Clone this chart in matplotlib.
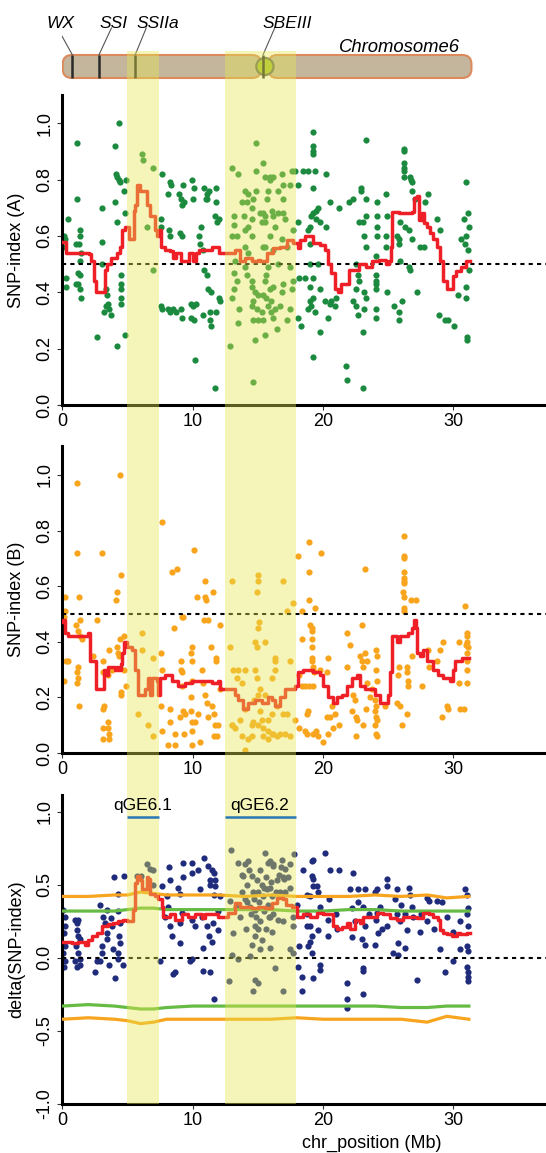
import matplotlib
matplotlib.use("Agg")
import matplotlib.pyplot as plt
from matplotlib.patches import FancyBboxPatch, Circle, Rectangle
from matplotlib import transforms
import numpy as np

# ---------------- data ----------------
x_ticks = [0, 10, 20, 30]
bands = [(4.95, 7.45), (12.5, 17.95)]
qtl_labels = ["qGE6.1", "qGE6.2"]
qtl_label_x = [6.15, 15.15]

genes = ["WX", "SSI", "SSIIa", "SBEIII"]
gene_pos = [0.78, 2.81, 5.59, 15.4]
gene_label_x = [-0.1, 3.91, 7.33, 17.27]
gene_leader_x = [-0.37, 3.77, 6.44, 16.3]
chrom_end = 31.4
centromere = 15.55

# Panel A: SNP-index (A)
a_pts = [(1.13,0.93),(4.08,0.92),(4.38,1.0),(0.43,0.66),(0.13,0.60),(0.18,0.59),(0.05,0.56),(0.25,0.45),(0.30,0.42),
(1.13,0.73),(1.39,0.62),(1.36,0.60),(1.26,0.57),(1.06,0.57),(1.44,0.54),(1.39,0.51),(1.23,0.47),(1.34,0.46),(1.18,0.43),(1.06,0.43),(1.39,0.41),(1.44,0.38),
(2.70,0.24),(3.02,0.70),(3.07,0.58),(3.02,0.50),(3.32,0.41),(3.45,0.39),(3.50,0.36),(3.58,0.34),(3.20,0.33),(3.70,0.32),(3.35,0.35),
(4.13,0.82),(4.21,0.81),(4.33,0.80),(4.46,0.79),(4.08,0.72),(4.21,0.65),(4.51,0.46),(4.51,0.43),(4.51,0.41),(4.51,0.38),(4.51,0.36),
(4.81,0.68),(4.91,0.80),(4.76,0.76),(4.81,0.25),(4.16,0.21),
(6.15,0.89),(6.17,0.87),(6.98,0.84),(6.93,0.48),(6.52,0.63),
(7.66,0.82),(7.61,0.66),(7.61,0.63),(7.61,0.35),(7.68,0.34),(8.24,0.79),(8.36,0.78),(8.11,0.75),(8.19,0.62),(8.24,0.60),
(8.11,0.34),(8.49,0.34),(8.74,0.33),(9.12,0.34),(9.19,0.31),(8.24,0.33),
(8.99,0.75),(9.12,0.73),(9.19,0.71),(9.37,0.72),(9.24,0.78),(9.07,0.61),(9.19,0.60),
(9.95,0.80),(10.13,0.77),(10.0,0.73),(9.87,0.36),(10.0,0.35),(10.25,0.36),(9.87,0.31),(10.13,0.30),(10.20,0.16),
(10.63,0.63),(10.50,0.60),(10.58,0.57),(10.81,0.55),(10.88,0.77),(11.13,0.75),(11.26,0.76),(11.01,0.73),(11.13,0.73),
(10.88,0.48),(11.13,0.46),(11.21,0.41),(11.39,0.40),(11.31,0.33),(10.81,0.32),(11.34,0.30),(11.39,0.28),
(11.76,0.77),(11.76,0.72),(11.71,0.67),(11.89,0.65),(12.01,0.66),(11.71,0.06),(11.76,0.33),(12.06,0.38),(12.14,0.37),
(12.85,0.21),(13.02,0.84),(13.48,0.82),(13.15,0.67),(13.15,0.64),(13.02,0.60),(13.40,0.60),(13.27,0.51),(13.15,0.47),(13.40,0.44),(13.15,0.41),(13.02,0.38),(13.53,0.34),(13.48,0.29),
(14.03,0.76),(14.23,0.75),(14.16,0.72),(14.53,0.70),(14.66,0.73),(14.89,0.83),(14.84,0.93),(14.84,0.76),
(13.78,0.72),(13.98,0.67),(14.03,0.62),(14.28,0.63),(14.53,0.66),(14.53,0.60),(14.03,0.56),(14.28,0.54),
(14.03,0.49),(14.16,0.46),(14.53,0.44),(14.58,0.42),(14.79,0.40),(15.04,0.39),(14.66,0.37),(14.53,0.35),(14.91,0.34),(15.29,0.33),(14.66,0.30),(15.04,0.30),
(14.79,0.23),(15.54,0.25),(14.66,0.08),(15.16,0.68),(15.29,0.65),(15.54,0.67),(15.54,0.56),(15.67,0.46),(15.92,0.41),(16.00,0.37),(16.05,0.33),(15.67,0.38),
(15.92,0.81),(15.79,0.76),(16.10,0.69),
(15.44,0.86),(15.57,0.81),(15.95,0.80),(16.20,0.81),(16.84,0.82),(17.59,0.83),(17.85,0.83),(17.47,0.78),(16.96,0.78),(16.58,0.76),(16.96,0.73),(15.70,0.73),
(15.44,0.68),(16.20,0.67),(16.58,0.68),(16.96,0.68),(17.09,0.66),(16.33,0.63),(15.57,0.65),(15.95,0.60),(16.84,0.59),(17.72,0.62),(15.44,0.56),(16.20,0.55),
(17.22,0.56),(15.82,0.49),(16.58,0.50),(17.47,0.49),(17.72,0.44),(16.96,0.43),(16.20,0.42),(15.57,0.44),(17.59,0.41),(16.84,0.40),(15.44,0.39),(15.82,0.35),
(16.33,0.34),(16.71,0.35),(17.47,0.34),(15.44,0.30),(16.20,0.31),(16.46,0.27),(17.22,0.30),
(19.24,0.97),(19.24,0.92),(19.24,0.90),(19.24,0.89),(18.48,0.83),(18.86,0.83),(19.37,0.83),(20.25,0.82),(18.10,0.78),(19.24,0.77),(23.29,0.94),(21.27,0.70),
(20.51,0.72),(19.62,0.70),(19.49,0.69),(19.24,0.68),(19.11,0.67),(19.49,0.66),(18.99,0.63),(19.75,0.65),(20.25,0.63),(18.86,0.62),(18.10,0.65),(18.99,0.57),
(18.99,0.50),(19.62,0.50),(18.18,0.45),(18.61,0.45),(19.24,0.45),(18.99,0.42),(19.75,0.41),(19.24,0.38),(18.99,0.37),(18.86,0.34),(19.11,0.35),(20.13,0.37),
(19.37,0.33),(18.35,0.28),(18.10,0.31),(19.75,0.26),(20.38,0.31),(20.51,0.36),(20.63,0.37),(20.89,0.35),(21.01,0.38),(19.24,0.17),(21.77,0.14),(21.82,0.09),(23.09,0.06),
(22.28,0.73),(22.03,0.72),(22.91,0.77),(22.91,0.76),(23.29,0.73),(22.78,0.65),(23.04,0.65),(23.29,0.67),(22.53,0.50),(22.66,0.46),(22.78,0.44),(22.53,0.41),
(23.16,0.40),(23.29,0.38),(22.28,0.37),(22.53,0.35),(22.66,0.32),(23.16,0.34),(24.05,0.34),(24.05,0.31),(23.04,0.26),(23.29,0.56),(23.16,0.60),(24.18,0.60),
(24.18,0.63),(24.18,0.67),(24.18,0.72),(24.05,0.53),(24.05,0.46),(24.05,0.44),(24.05,0.43),(24.05,0.41),(24.81,0.75),(24.94,0.67),(24.81,0.60),(24.81,0.56),
(24.94,0.40),(25.44,0.35),(25.82,0.33),(25.82,0.30),(26.08,0.37),(25.70,0.60),(25.82,0.57),(25.95,0.65),(25.82,0.59),
(26.20,0.91),(26.25,0.90),(26.25,0.86),(26.25,0.84),(26.25,0.83),(26.25,0.81),(26.71,0.81),(26.78,0.80),(26.84,0.79),(26.84,0.76),(27.09,0.73),(28.10,0.75),
(27.85,0.72),(26.33,0.63),(26.58,0.62),(26.84,0.59),(25.95,0.51),(26.58,0.49),(26.71,0.48),(27.22,0.40),(27.47,0.56),(27.72,0.56),(28.73,0.66),(28.99,0.62),
(28.94,0.32),(29.37,0.30),(29.62,0.30),(30.08,0.28),(30.38,0.39),(30.56,0.59),(31.01,0.79),(31.14,0.68),(30.84,0.66),(31.19,0.63),(31.01,0.60),(30.89,0.57),
(31.14,0.55),(31.22,0.48),(31.01,0.42),(31.01,0.38),(31.09,0.24),(31.09,0.23)]

a_line = [(0.0,0.58),(0.30,0.54),(1.56,0.54),(2.07,0.535),(2.19,0.51),(2.44,0.44),(2.57,0.40),(3.20,0.40),(3.25,0.48),(3.45,0.50),(3.70,0.52),(4.21,0.54),
(4.46,0.56),(4.58,0.62),(4.84,0.63),(5.09,0.59),(5.47,0.69),(5.59,0.71),(5.72,0.78),(5.92,0.78),(5.97,0.76),(6.35,0.76),(6.47,0.71),(6.73,0.67),(6.98,0.67),
(7.10,0.62),(7.23,0.60),(7.43,0.62),(7.61,0.56),(7.86,0.55),(8.24,0.545),(8.49,0.52),(8.74,0.54),(9.12,0.51),(9.50,0.51),(9.75,0.54),(10.0,0.51),(10.25,0.54),
(10.50,0.55),(11.01,0.55),(11.51,0.56),(12.01,0.54),(12.39,0.54),(12.77,0.54),(13.27,0.55),(13.65,0.51),(14.03,0.52),(14.53,0.51),(15.04,0.515),(15.19,0.51),
(15.70,0.54),(16.20,0.556),(16.71,0.56),(17.22,0.586),(17.72,0.574),(18.10,0.556),(18.23,0.586),(18.61,0.60),(19.24,0.574),(19.75,0.568),(20.13,0.55),(20.38,0.50),
(20.63,0.47),(20.89,0.41),(21.14,0.40),(21.39,0.43),(21.77,0.43),(22.03,0.48),(22.53,0.48),(22.78,0.50),(23.29,0.49),(23.80,0.51),(24.30,0.515),(24.81,0.50),
(25.06,0.51),(25.19,0.56),(25.32,0.686),(25.82,0.68),(26.33,0.68),(26.84,0.686),(26.96,0.733),(27.22,0.74),(27.34,0.657),(27.59,0.68),(27.72,0.645),(27.97,0.63),
(28.23,0.61),(28.48,0.59),(28.73,0.56),(28.99,0.51),(29.24,0.44),(29.49,0.41),(29.82,0.41),(30.0,0.456),(30.25,0.474),(30.63,0.49),(31.01,0.51),(31.27,0.51)]

# Panel B: SNP-index (B)
b_pts = [(1.13,0.97),(4.43,1.0),(1.13,0.72),(3.02,0.72),(7.62,0.83),(10.13,0.73),(4.50,0.64),(8.39,0.65),(8.83,0.66),(10.95,0.62),(13.0,0.62),(11.59,0.58),
(10.31,0.56),(10.95,0.56),(11.0,0.55),(0.21,0.56),(1.28,0.56),(4.17,0.58),(4.12,0.55),(14.99,0.64),(14.99,0.62),(14.91,0.58),(0.21,0.51),(0.16,0.49),(2.64,0.48),
(9.16,0.49),(12.10,0.46),(10.90,0.48),(11.21,0.48),(1.05,0.46),(1.36,0.48),(1.23,0.44),(1.36,0.42),(1.49,0.41),(4.76,0.42),(4.43,0.41),(4.17,0.38),(4.30,0.36),
(6.14,0.43),(6.14,0.37),(6.99,0.34),(7.57,0.36),(8.60,0.45),(9.29,0.49),(9.93,0.38),(9.85,0.36),(9.93,0.33),(11.41,0.38),(11.77,0.34),(11.77,0.33),
(15.04,0.45),(15.09,0.47),(14.79,0.40),(15.55,0.40),(16.32,0.34),(14.91,0.38),
(0.28,0.33),(0.46,0.33),(1.23,0.31),(1.13,0.29),(1.23,0.27),(1.13,0.25),(0.16,0.26),(1.28,0.17),(2.38,0.35),(3.15,0.33),(3.58,0.37),(3.15,0.29),(3.53,0.28),
(3.79,0.30),(4.35,0.35),(4.50,0.22),(4.50,0.21),(4.89,0.24),(3.17,0.17),(3.15,0.16),(3.53,0.11),(3.53,0.09),(3.15,0.09),(3.61,0.07),(3.15,0.05),(3.58,0.05),
(5.78,0.14),(6.60,0.10),(6.99,0.06),(4.76,0.30),(7.62,0.30),(7.57,0.17),(7.62,0.08),(8.26,0.16),(8.26,0.11),(8.65,0.07),(8.14,0.03),(8.65,0.03),(9.36,0.07),
(9.11,0.30),(9.16,0.29),(9.11,0.33),(9.16,0.24),(9.03,0.13),(9.29,0.15),(9.42,0.14),(9.98,0.26),(9.85,0.20),(9.88,0.15),(9.93,0.11),(9.98,0.08),(10.39,0.14),
(10.18,0.11),(10.75,0.30),(10.82,0.25),(10.95,0.21),(11.08,0.18),(11.15,0.13),(10.59,0.04),(9.93,0.03),(11.46,0.17),(11.67,0.14),(11.72,0.10),(11.97,0.10),
(11.85,0.06),(11.67,0.06),(12.10,0.23),
(12.87,0.38),(13.12,0.30),(13.51,0.30),(14.02,0.30),(13.76,0.25),(13.38,0.27),(13.05,0.10),(13.25,0.09),(13.0,0.10),(13.64,0.12),(13.81,0.06),(14.28,0.05),
(14.53,0.10),(14.79,0.30),(14.91,0.27),(15.04,0.21),(14.74,0.19),(15.17,0.15),(15.30,0.12),(15.43,0.06),(15.81,0.05),(16.07,0.07),(15.81,0.12),(16.45,0.17),
(16.07,0.14),(15.55,0.21),(16.32,0.30),(15.17,0.23),(14.02,0.16),(14.66,0.11),(15.04,0.10),(15.43,0.09),(15.81,0.08),(14.53,0.06),(14.02,0.01),
(16.96,0.62),(17.68,0.54),(17.22,0.51),(18.11,0.71),(18.93,0.76),(19.83,0.72),(18.96,0.65),(19.39,0.52),(18.96,0.55),(18.40,0.51),(19.01,0.46),(19.14,0.45),
(19.14,0.44),(19.14,0.41),(19.19,0.38),(18.37,0.41),(19.14,0.34),(19.19,0.33),(19.21,0.31),(19.27,0.30),(19.34,0.29),(20.42,0.34),(19.78,0.30),(20.29,0.29),
(18.19,0.28),(18.37,0.24),(18.63,0.24),(18.96,0.24),(19.27,0.24),(21.82,0.43),(22.08,0.39),(23.03,0.46),(23.23,0.66),(21.82,0.31),(22.85,0.35),(22.97,0.33),
(23.05,0.31),(23.23,0.36),(23.36,0.33),(24.07,0.37),(24.13,0.35),(24.07,0.30),(24.18,0.26),(18.88,0.15),(18.75,0.14),(18.75,0.07),(18.17,0.09),(18.63,0.08),
(19.27,0.07),(19.47,0.08),(20.03,0.04),(19.65,0.06),(20.42,0.07),(20.80,0.09),(21.26,0.10),(20.54,0.13),(20.93,0.14),(20.67,0.17),(20.34,0.13),(22.34,0.21),
(22.46,0.19),(22.21,0.15),(22.54,0.13),(22.59,0.12),(23.05,0.10),(22.54,0.06),(23.31,0.16),(23.61,0.20),(23.74,0.23),(23.36,0.25),(24.0,0.19),(24.07,0.17),
(24.0,0.15),(24.07,0.13),(24.13,0.12),(24.02,0.10),(24.07,0.07),(24.13,0.06),(24.77,0.17),
(26.22,0.78),(26.22,0.71),(26.25,0.70),(26.22,0.65),(26.22,0.63),(26.22,0.62),(26.22,0.61),(26.17,0.58),(26.22,0.56),(26.22,0.52),(26.25,0.51),(26.73,0.55),
(27.14,0.55),(25.84,0.31),(25.79,0.28),(25.71,0.18),(25.92,0.17),(26.04,0.10),(26.43,0.31),(26.43,0.29),(26.50,0.26),(26.56,0.24),(26.48,0.14),(26.81,0.35),
(27.58,0.24),(28.09,0.37),(28.17,0.31),(28.73,0.33),(29.24,0.40),(28.99,0.37),(29.11,0.13),(29.55,0.17),(29.63,0.16),(30.47,0.25),(30.52,0.16),(30.83,0.16),
(30.90,0.53),(31.03,0.43),(31.03,0.42),(31.08,0.40),(31.11,0.38),(31.03,0.36),(31.03,0.33),(31.03,0.30),(31.08,0.25),(30.47,0.40),(30.98,0.39),
(16.07,0.27),(16.96,0.14),(17.22,0.14),(16.71,0.07),(17.09,0.07),(16.20,0.07),(17.47,0.06),(16.45,0.06),(17.86,0.12),(16.32,0.33),(17.47,0.33)]

b_line = [(0.0,0.47),(0.08,0.48),(0.21,0.43),(0.41,0.42),(2.0,0.43),(2.12,0.33),(2.38,0.33),(2.56,0.23),(3.15,0.23),(3.2,0.30),(3.4,0.28),(3.48,0.31),(4.04,0.30),
(4.17,0.31),(4.30,0.30),(4.50,0.32),(4.56,0.36),(4.76,0.40),(4.94,0.38),(5.32,0.37),(5.58,0.30),(5.83,0.21),(6.35,0.23),(6.60,0.27),(6.73,0.21),(6.86,0.27),
(7.24,0.26),(7.37,0.21),(7.50,0.27),(7.88,0.28),(8.39,0.26),(8.90,0.24),(9.42,0.25),(9.93,0.26),(10.44,0.26),(10.95,0.26),(11.46,0.25),(11.97,0.26),(12.10,0.23),
(12.48,0.23),(12.87,0.23),(13.25,0.21),(13.51,0.19),(13.89,0.16),(14.28,0.18),(14.79,0.19),(15.30,0.18),(15.81,0.20),(16.07,0.19),(16.32,0.17),(16.71,0.20),
(17.09,0.23),(17.47,0.23),(17.86,0.24),(18.11,0.29),(18.5,0.30),(18.88,0.30),(19.27,0.29),(19.78,0.28),(20.03,0.24),(20.42,0.20),(20.80,0.18),(21.06,0.20),
(21.44,0.21),(21.82,0.24),(22.21,0.27),(22.59,0.28),(22.85,0.24),(23.23,0.23),(23.61,0.23),(24.0,0.21),(24.38,0.18),(24.77,0.18),(25.0,0.21),(25.15,0.29),
(25.28,0.42),(25.66,0.40),(25.92,0.42),(26.56,0.43),(26.81,0.45),(26.99,0.48),(27.12,0.45),(27.2,0.36),(27.45,0.35),(27.7,0.37),(27.96,0.33),(28.47,0.30),
(28.86,0.28),(29.24,0.27),(29.75,0.26),(29.96,0.30),(30.14,0.33),(30.52,0.33),(30.65,0.34),(31.2,0.34)]

# Panel C: delta(SNP-index)
c_pts = [(0.08,0.33),(0.21,0.28),(0.21,0.22),(0.16,0.17),(0.21,0.08),(0.08,0.03),(0.21,-0.02),(0.16,-0.06),(0.97,0.26),(1.10,0.24),(1.23,0.26),(1.10,0.19),
(1.18,0.15),(1.36,0.13),(1.02,0.08),(1.23,0.03),(1.36,-0.01),(0.97,-0.02),(1.10,-0.06),(1.36,-0.05),(2.51,-0.10),(2.64,-0.02),(3.02,0.03),(2.89,-0.02),
(3.02,0.08),(3.40,0.13),(3.40,0.17),(2.89,0.36),(3.40,0.33),(3.15,0.28),(3.28,0.24),(3.74,0.27),(3.79,0.22),(3.58,-0.05),(3.92,0.06),(4.04,-0.14),(3.99,0.55),
(4.30,0.44),(4.30,0.32),(4.43,0.24),(4.35,0.15),(4.43,0.10),(4.30,0.03),(4.30,-0.01),(4.76,0.56),(4.68,-0.05),
(5.71,0.56),(6.47,0.64),(6.73,0.61),(6.99,0.60),(6.99,0.50),(6.04,0.56),
(7.62,0.49),(8.19,0.62),(8.26,0.53),(8.01,0.42),(8.14,0.35),(7.88,0.28),(7.50,-0.02),(8.26,0.22),(8.39,0.15),(8.52,-0.11),(8.65,-0.10),(9.03,0.10),(9.03,0.24),
(9.16,0.31),(9.03,0.44),(8.90,0.48),(9.29,0.65),(9.29,0.55),(9.93,0.65),(9.98,0.58),(9.93,0.26),(10.18,0.22),(9.80,-0.02),(9.98,-0.01),(10.44,0.60),(10.57,0.47),
(10.69,0.28),(10.82,0.07),(10.82,-0.09),(10.90,0.68),(11.08,0.22),(11.21,0.63),(11.33,0.53),(11.46,0.60),(11.33,0.50),(11.26,0.15),(11.33,-0.10),(11.46,0.11),
(11.67,0.58),(11.72,0.53),(11.72,0.49),(11.67,0.43),(11.59,0.24),(11.97,0.32),(11.97,0.19),(11.67,-0.28),(12.10,0.42),
(12.95,0.74),(12.87,0.39),(13.12,0.17),(13.0,0.02),(13.51,-0.01),(12.79,-0.16),(13.51,0.65),(13.76,0.57),(14.02,0.64),(14.15,0.38),(14.53,0.56),(14.28,0.66),
(14.91,0.53),(15.81,0.65),(15.55,0.72),(14.79,0.22),(14.40,0.01),(14.53,0.09),(14.79,-0.15),(15.04,-0.17),(14.66,-0.23),(15.17,0.06),(16.19,0.63),(16.07,0.42),
(13.8,0.45),(14.0,0.40),(14.2,0.50),(14.4,0.35),(14.5,0.30),(14.6,0.45),(14.7,0.40),(14.8,0.33),(14.9,0.28),(15.0,0.45),(15.1,0.38),(15.2,0.25),(15.3,0.50),
(15.4,0.42),(15.5,0.32),(15.6,0.20),(15.7,0.47),(15.8,0.36),(15.9,0.28),(16.0,0.52),(16.2,0.30),(16.4,0.45),(13.9,0.56),(14.3,0.60),(15.2,0.60),(15.6,0.55),
(14.8,0.15),(15.3,0.12),(16.6,0.57),(16.8,0.62),(17.0,0.54),(13.3,0.35),(13.6,0.28),(15.5,0.48),(14.1,0.20),(15.0,0.20),(16.1,0.18),
(15.94,0.66),(16.2,0.64),(16.84,0.67),(17.09,0.61),(17.47,0.64),(17.78,0.71),(17.35,0.55),(16.96,0.55),(16.45,0.53),(15.94,0.48),(16.71,0.45),(17.09,0.45),
(17.47,0.48),(15.94,0.28),(16.58,0.26),(16.96,0.25),(17.73,0.28),(17.73,0.22),(15.94,0.07),(17.47,0.06),(17.73,0.03),(16.32,-0.07),(16.96,-0.23),
(18.5,0.60),(19.14,0.66),(19.27,0.67),(19.14,0.56),(19.21,0.54),(19.27,0.49),(19.52,0.49),(19.65,0.45),(19.78,0.35),(18.75,0.43),(19.01,0.42),(17.99,0.36),
(18.75,0.30),(20.16,0.72),(20.54,0.60),(21.26,0.60),(22.34,0.58),(22.08,0.47),(22.72,0.47),(23.23,0.47),(22.21,0.34),(22.67,0.38),(23.10,0.35),(23.23,0.22),
(22.97,0.13),(23.23,0.09),(22.21,0.14),(21.06,0.20),(20.42,0.15),(20.42,0.26),(19.65,0.19),(19.14,0.15),(19.01,0.11),(18.88,0.08),(19.14,0.03),(19.78,-0.05),
(19.78,-0.08),(18.11,-0.06),(18.37,-0.13),(19.27,-0.14),(18.37,-0.23),(18.75,0.22),(19.01,0.22),(18.19,0.08),(21.82,-0.17),(21.82,-0.28),(21.87,-0.34),
(23.05,-0.07),(23.10,-0.09),(23.05,-0.25),(24.0,0.45),(24.13,0.47),(24.38,0.35),(24.13,0.31),(24.07,0.26),(24.25,0.17),(24.0,0.09),(24.89,0.54),(24.89,0.49),
(24.89,0.22),(25.40,0.03),(25.79,0.02),(25.79,0.10),(25.66,0.47),(26.3,0.30),(26.43,0.19),(26.3,0.07),(26.63,0.48),(26.68,0.43),(26.81,0.35),(26.89,0.28),
(27.2,-0.15),(27.45,0.18),(27.96,0.41),(28.17,0.39),(28.73,0.39),(29.11,0.38),(28.99,0.06),(29.37,-0.10),(30.01,-0.02),(29.96,0.18),(30.52,0.06),(30.9,0.47),
(31.03,0.43),(31.16,0.34),(31.03,0.30),(31.16,0.22),(31.03,0.08),(31.16,0.05),(31.03,-0.06),(31.11,-0.10),(31.16,-0.13),(31.11,-0.16),
(25.7,0.30),(25.9,0.25),(26.0,0.36),(25.5,0.40),(20.5,0.40),(21.0,0.30),(22.5,0.25),(23.5,0.30),(24.5,0.20),(27.5,0.30),(28.0,0.25),(28.5,0.20),(29.5,0.28),(30.5,0.25)]

c_line = [(0.0,0.11),(0.72,0.10),(1.2,0.11),(1.74,0.09),(2.0,0.125),(2.25,0.15),(2.64,0.17),(3.02,0.22),(3.53,0.23),(3.92,0.24),(4.3,0.25),(4.68,0.26),(4.94,0.25),
(5.2,0.25),(5.45,0.33),(5.58,0.51),(5.71,0.56),(5.96,0.53),(6.09,0.47),(6.35,0.47),(6.47,0.55),(6.60,0.54),(6.73,0.44),(7.11,0.42),(7.37,0.40),(7.62,0.35),
(7.75,0.28),(8.26,0.30),(8.65,0.26),(9.16,0.30),(9.67,0.28),(10.18,0.30),(10.7,0.27),(10.95,0.30),(11.46,0.30),(11.97,0.28),(12.36,0.28),(12.74,0.31),
(13.25,0.375),(13.64,0.35),(14.02,0.35),(14.53,0.34),(15.04,0.35),(15.55,0.34),(16.07,0.375),(16.45,0.41),(16.96,0.40),(17.2,0.36),(17.6,0.35),(17.9,0.35),
(17.99,0.28),(18.5,0.30),(19.01,0.28),(19.52,0.31),(20.03,0.30),(20.54,0.30),(20.8,0.22),(21.06,0.20),(21.44,0.21),(21.82,0.24),(22.08,0.20),(22.46,0.26),
(22.85,0.24),(23.1,0.28),(23.61,0.28),(24.13,0.31),(24.64,0.30),(25.15,0.27),(25.66,0.26),(26.17,0.28),(26.68,0.28),(27.2,0.27),(27.7,0.31),(28.17,0.30),
(28.47,0.28),(28.86,0.26),(28.99,0.19),(29.24,0.17),(29.5,0.16),(29.88,0.15),(30.27,0.17),(30.52,0.16),(31.03,0.17),(31.29,0.17)]

thr_x = [0, 2, 4, 5, 6, 7, 8, 10, 12, 14, 16, 18, 20, 22, 24, 26, 28, 29.5, 31.2]
thr99_hi = [0.42, 0.42, 0.43, 0.43, 0.45, 0.44, 0.43, 0.43, 0.43, 0.42, 0.43, 0.42, 0.42, 0.42, 0.43, 0.42, 0.43, 0.41, 0.42]
thr99_lo = [-0.42, -0.41, -0.42, -0.43, -0.45, -0.44, -0.42, -0.42, -0.42, -0.42, -0.42, -0.41, -0.42, -0.42, -0.42, -0.42, -0.44, -0.40, -0.42]
thr95_hi = [0.32, 0.32, 0.32, 0.33, 0.34, 0.34, 0.33, 0.33, 0.33, 0.33, 0.33, 0.32, 0.32, 0.33, 0.33, 0.32, 0.32, 0.32, 0.32]
thr95_lo = [-0.33, -0.32, -0.33, -0.34, -0.35, -0.35, -0.34, -0.33, -0.33, -0.33, -0.33, -0.33, -0.33, -0.33, -0.33, -0.34, -0.34, -0.33, -0.33]

# ---------------- figure ----------------
plt.rcParams['font.family'] = ['Liberation Sans', 'DejaVu Sans']
W, H = 546, 1153
fig = plt.figure(figsize=(W / 100, H / 100), dpi=100)
XMAX = 37.12
LEFT = 62.3 / W


def panel(top_px, bottom_px, z=0):
    return fig.add_axes([LEFT, 1 - bottom_px / H, 1 - LEFT, (bottom_px - top_px) / H], zorder=z)


def style(ax, ylim, yticks, ylabel):
    ax.set_xlim(0, XMAX)
    ax.set_ylim(*ylim)
    for s in ("top", "right"):
        ax.spines[s].set_visible(False)
    for s in ("left", "bottom"):
        ax.spines[s].set_linewidth(2.2)
    ax.set_xticks(x_ticks)
    ax.set_xticklabels([str(t) for t in x_ticks])
    ax.set_yticks(yticks)
    ax.set_yticklabels([f"{t:.1f}" for t in yticks], rotation=90, va="center")
    ax.tick_params(axis="both", length=3.5, width=0.8, labelsize=13, color="#333333")
    ax.tick_params(axis="y", pad=3)
    ax.tick_params(axis="x", pad=2)
    ax.set_ylabel(ylabel, fontsize=13)
    ax.yaxis.set_label_coords(-0.077, 0.5)
    ax.patch.set_alpha(0)


GREEN = "#1b8a3f"
ORANGE = "#f8a41c"
NAVY = "#1f2b7b"
RED = "#ee1f26"

axA = panel(95, 405)
axB = panel(446, 753)
axC = panel(795, 1104)

for ax, pts, line, col in ((axA, a_pts, a_line, GREEN), (axB, b_pts, b_line, ORANGE), (axC, c_pts, c_line, NAVY)):
    p = np.array(pts)
    ax.scatter(p[:, 0], p[:, 1], s=20, color=col, linewidths=0, zorder=2)
    l = np.array(line)
    ax.plot(l[:, 0], l[:, 1], color=RED, lw=2.5, zorder=4, drawstyle="steps-post")

axA.axhline(0.5, color="black", lw=1.5, ls=(0, (2, 2)), zorder=3)
axB.axhline(0.5, color="black", lw=1.5, ls=(0, (2, 2)), zorder=3)
axC.axhline(0.0, color="black", lw=1.5, ls=(0, (2, 2)), zorder=3)

axC.plot(thr_x, thr99_hi, color="#f7a51e", lw=2.3, zorder=3)
axC.plot(thr_x, thr99_lo, color="#f7a51e", lw=2.3, zorder=3)
axC.plot(thr_x, thr95_hi, color="#66bb44", lw=2.3, zorder=3)
axC.plot(thr_x, thr95_lo, color="#66bb44", lw=2.3, zorder=3)

style(axA, (0, 1.10), [0.0, 0.2, 0.4, 0.6, 0.8, 1.0], "SNP-index (A)")
style(axB, (0, 1.104), [0.0, 0.2, 0.4, 0.6, 0.8, 1.0], "SNP-index (B)")
style(axC, (-1.0, 1.114), [-1.0, -0.5, 0.0, 0.5, 1.0], "delta(SNP-index)")

# QTL labels drawn above the translucent band overlay
axQ = panel(795, 1104, z=11)
axQ.set_xlim(0, XMAX)
axQ.set_ylim(-1.0, 1.114)
axQ.axis("off")
for (x0, x1), lab, lx in zip(bands, qtl_labels, qtl_label_x):
    axQ.plot([x0, x1], [0.966, 0.966], color="#2878b5", lw=1.8, solid_capstyle="butt")
    axQ.text(lx, 1.045, lab, ha="center", va="center", fontsize=12.5)

fig.text(372 / W, 1 - 1148 / H, "chr_position (Mb)", ha="center", va="baseline", fontsize=13)

# ---------------- chromosome schematic ----------------
PXU = (W - 62.3) / XMAX  # pixels per Mb
axK = fig.add_axes([LEFT, 1 - 100 / H, 1 - LEFT, 100 / H])
axK.set_xlim(0, XMAX)
axK.set_ylim(0, 100 / PXU)
axK.axis("off")
axK.patch.set_alpha(0)


def yk(px):
    return (100 - px) / PXU


cy0, cy1 = yk(78), yk(55)
arm_l = FancyBboxPatch((0.03, cy0), 15.27 - 0.03, cy1 - cy0, boxstyle="round,pad=0,rounding_size=0.7",
                       fc="#c4b59d", ec="#dc8a5c", lw=1.5, zorder=1)
arm_r = FancyBboxPatch((15.8, cy0), chrom_end - 15.8, cy1 - cy0, boxstyle="round,pad=0,rounding_size=0.7",
                       fc="#c4b59d", ec="#dc8a5c", lw=1.5, zorder=1)
axK.add_patch(arm_l)
axK.add_patch(arm_r)
axK.add_patch(Circle((centromere, (cy0 + cy1) / 2), 0.66, fc="#a8c030", ec="#6a6a5a", lw=1.6, zorder=2))

for name, gx, lx, tx in zip(genes, gene_pos, gene_leader_x, gene_label_x):
    axK.plot([gx, gx], [cy0, cy1], color="#2a2a2a", lw=1.8, zorder=3, solid_capstyle="butt")
    axK.plot([gx, lx], [cy1, yk(28)], color="#555555", lw=0.8, zorder=3)
    axK.text(tx, yk(28), name, ha="center", va="baseline", fontsize=12.5, style="italic", zorder=3)
axK.text(25.9, yk(47), "Chromosome6", ha="center", va="center", fontsize=13.3, style="italic", zorder=3)

# ---------------- yellow QTL bands (translucent overlay) ----------------
blend = transforms.blended_transform_factory(axC.transData, fig.transFigure)
for x0, x1 in bands:
    fig.add_artist(Rectangle((x0, 1 - 1104 / H), x1 - x0, (1104 - 50.5) / H, transform=blend,
                             facecolor="#e6e850", edgecolor="none", alpha=0.4, zorder=10))

fig.savefig("out.png", dpi=100)
